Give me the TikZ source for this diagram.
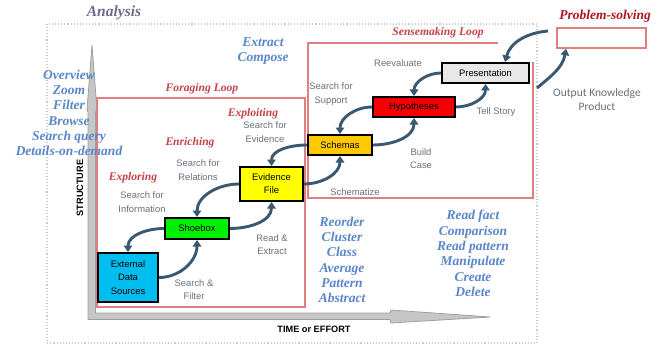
\documentclass[tikz,border=0pt]{standalone}
\usepackage{fontspec}
\setmainfont{Liberation Serif}
\setsansfont{Liberation Sans}
\newfontfamily\calib{Carlito}
\usetikzlibrary{arrows.meta}
\definecolor{listblue}{RGB}{88,134,200}
\definecolor{looptxt}{RGB}{196,66,72}
\definecolor{probred}{RGB}{170,22,34}
\definecolor{anal}{RGB}{108,110,140}
\definecolor{labgray}{RGB}{105,112,124}
\definecolor{flowc}{RGB}{58,88,112}
\definecolor{loopline}{RGB}{222,128,130}
\definecolor{extblue}{RGB}{0,190,240}
\definecolor{shoegreen}{RGB}{0,240,0}
\definecolor{evyellow}{RGB}{255,255,0}
\definecolor{schgold}{RGB}{255,200,0}
\definecolor{hypred}{RGB}{245,0,0}
\definecolor{presgray}{RGB}{232,232,232}
\tikzset{
  stage/.style={draw=black, line width=2pt, inner sep=0pt, align=center,
    font=\sffamily\fontsize{9.4}{13.2}\selectfont},
  flow/.style={draw=flowc, line width=2.9pt,
    -{Triangle[length=6.5pt,width=8.5pt]}},
  action/.style={text=listblue, align=center,
    font=\bfseries\itshape\fontsize{13.5}{15.3}\selectfont},
  phase/.style={text=looptxt, font=\bfseries\itshape\fontsize{11.6}{13}\selectfont},
  note/.style={text=labgray, align=center,
    font=\sffamily\fontsize{9.4}{13.5}\selectfont},
  loopbox/.style={draw=loopline, line width=1.1pt},
  axis/.style={fill=gray!45, draw=gray!75, line width=0.8pt, line join=round},
  axislabel/.style={font=\sffamily\bfseries\fontsize{9.2}{11}\selectfont}
}
\begin{document}
\begin{tikzpicture}[x=1pt, y=-1pt]
\useasboundingbox (0,0) rectangle (662,345);
\fill[white] (0,0) rectangle (662,345);

% outer dotted frame of the analysis space
\draw[gray!40, dotted, line width=1.1pt] (47,24) rectangle (537,343);

% axes
\draw[axis] (92,45) -- (97,110) -- (95.5,112) -- (95.5,313) -- (390,313)
  -- (391,310) -- (490,317) -- (391,323) -- (390,319.5) -- (88,319.5)
  -- (88,112) -- (87,110) -- cycle;
\node[axislabel, rotate=90] (ystr) at (80,188) {STRUCTURE};
\node[axislabel] (xtime) at (314,329) {TIME or EFFORT};

% loops
\draw[loopbox] (97,98) rectangle (305,307);
\draw[loopbox] (498,43) -- (308,43) -- (308,198) -- (533,198) -- (533,62);

% titles
\node[text=anal, font=\bfseries\itshape\fontsize{15.5}{17}\selectfont] (tanal) at (114,12.5) {Analysis};
\node[text=probred, font=\bfseries\itshape\fontsize{13.5}{15}\selectfont] (tprob) at (605,16.5) {Problem-solving};
\node[phase] (tforage) at (202,89) {Foraging Loop};
\node[phase] (tsense) at (438,33) {Sensemaking Loop};
\node[phase] (texplore) at (133,178) {Exploring};
\node[phase] (tenrich) at (190,143) {Enriching};
\node[phase] (texploit) at (253,114) {Exploiting};

% stages
\node[stage, fill=extblue, minimum width=60pt, minimum height=49pt, text width=58pt] (ext) at (128,277.5) {External\\Data\\Sources};
\node[stage, fill=shoegreen, minimum width=64pt, minimum height=21pt] (shoe) at (197,228.5) {Shoebox};
\node[stage, fill=evyellow, minimum width=63pt, minimum height=34pt, text width=60pt] (evid) at (271.5,184) {Evidence\\File};
\node[stage, fill=schgold, minimum width=64pt, minimum height=20pt] (schem) at (340,145) {Schemas};
\node[stage, fill=hypred, minimum width=82pt, minimum height=20pt] (hyp) at (414,107) {Hypotheses};
\node[stage, fill=presgray, minimum width=87pt, minimum height=20pt] (pres) at (485.5,73) {Presentation};
\node[draw=loopline, line width=1.5pt, fill=white, minimum width=89pt, minimum height=20pt, inner sep=0pt] (prob) at (601.5,38) {};

% flows between stages
\draw[flow] (ext.east) to[out=0, in=-90] (shoe.south);
\draw[flow] (shoe.west) to[out=180, in=90] (ext.north);
\draw[flow] (shoe.east) to[out=0, in=-90] (evid.south);
\draw[flow] (evid.west) to[out=180, in=90] (shoe.north);
\draw[flow] (evid.east) to[out=0, in=-90] (schem.south);
\draw[flow] (schem.west) to[out=180, in=90] (evid.north);
\draw[flow] (schem.east) to[out=0, in=-90] (hyp.south);
\draw[flow] (hyp.west) to[out=180, in=90] (schem.north);
\draw[flow] (hyp.east) to[out=0, in=-90] (pres.south);
\draw[flow] (pres.west) to[out=180, in=90] (hyp.north);
\coordinate (outk) at (537,88);
\coordinate (probl) at (548,31);
\draw[flow] (outk) to[out=40, in=-100] ([xshift=-35.5pt]prob.south);
\draw[flow] (probl) to[out=185, in=75] ([xshift=19.5pt]pres.north);

% process labels
\node[note] (nInfo) at (142,202) {Search for\\Information};
\node[note] (nRel) at (198,170) {Search for\\Relations};
\node[note] (nEvid) at (265,132) {Search for\\Evidence};
\node[note] (nFilt) at (194,289.5) {Search \&\\Filter};
\node[note] (nRead) at (272,244.5) {Read \&\\Extract};
\node[note] (nSch) at (355,192) {Schematize};
\node[note] (nCase) at (421,158.5) {Build\\Case};
\node[note] (nSup) at (331,94) {Search for\\Support};
\node[note] (nReev) at (398,63) {Reevaluate};
\node[note] (nTell) at (496,112) {Tell Story};
\node[text=labgray, align=center, font=\calib\fontsize{11.5}{14}\selectfont] (nOut) at (597,100) {Output Knowledge\\Product};

% interaction tasks
\node[action] (aView) at (69,113) {Overview\\Zoom\\Filter\\Browse\\Search query\\Details-on-demand};
\node[action] (aExt) at (263,51) {Extract\\Compose};
\node[action] (aSch) at (342,260) {Reorder\\Cluster\\Class\\Average\\Pattern\\Abstract};
\node[action] (aRead) at (473,253.5) {Read fact\\Comparison\\Read pattern\\Manipulate\\Create\\Delete};
\end{tikzpicture}
\end{document}
